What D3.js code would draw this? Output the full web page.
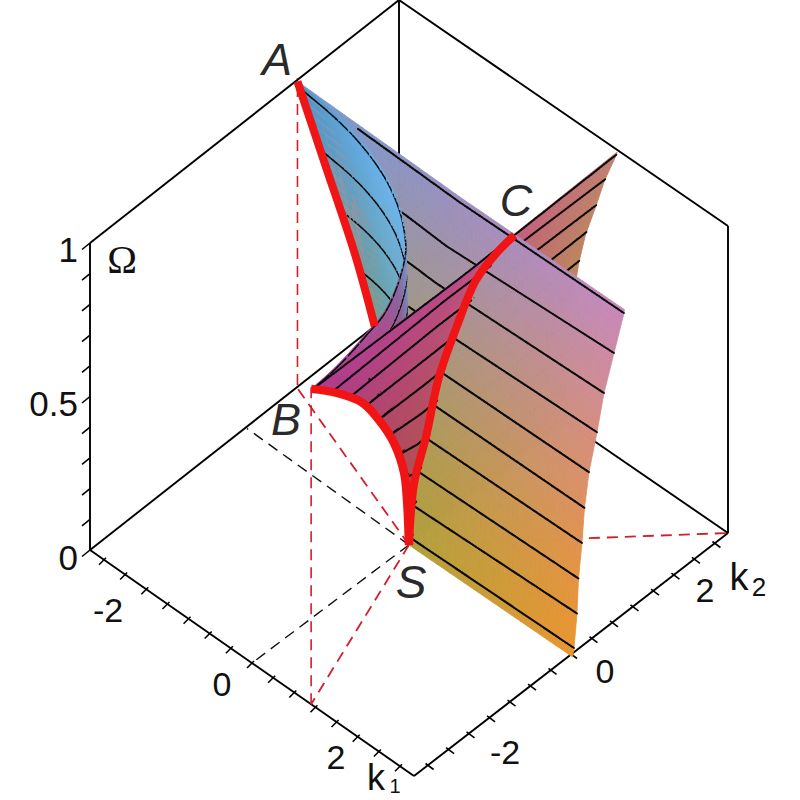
<!DOCTYPE html>
<html><head><meta charset="utf-8">
<script src="https://cdn.jsdelivr.net/npm/d3@7"></script>
<style>html,body{margin:0;padding:0;background:#fff}svg{display:block}</style>
</head><body><svg id="c" width="800" height="800"></svg>
<script>
// ---------- values ----------
const PI = Math.PI;
const k1Ticks = [-2.87,-2.46,-2.05,-1.64,-1.23,-0.82,-0.41,0,0.41,0.82,1.23,1.64,2.05,2.46,2.87];
const k2Ticks = [-2.87,-2.46,-2.05,-1.64,-1.23,-0.82,-0.41,0,0.41,0.82,1.23,1.64,2.05,2.46,2.87];
const omegaTicks = [0,0.1,0.2,0.3,0.4,0.5,0.6,0.7,0.8,0.9,1];
const k1Labels = [-2,0,2], k2Labels = [-2,0,2], omegaLabels = [0,0.5,1];
const contourLevels = [0.025,0.13,0.24,0.347,0.455,0.56,0.67,0.78,0.885,0.99];
// where each contour of the main sheet comes into view, in k1
const contourStart  = [0,0.06,0.12,0.2,0.28,0.35,-0.43,-0.6,-0.87,-2.0];

// sheet offset at the centre line, as a function of Omega
const centreO = [0,0.2,0.35,0.544,0.707,0.857,0.945,1];
const centreK = [0,0.05,0.167,0.295,0.47,0.66,0.866,1.04];
// main sheet offset at k1 = pi
const edgeO = [0,0.025,0.13,0.24,0.347,0.455,0.56,0.67,0.78,0.885,0.99,1];
const edgeK = [0.03,0.06,0.12,0.15,0.22,0.27,0.36,0.52,0.66,0.86,1.06,1.07];
// second sheet offset at k2 = pi
const tipO = [0,0.13,0.24,0.35,0.45,0.554,0.66,0.77,0.88,0.986,1];
const tipK = [0,0.02,0.04,0.08,0.16,0.25,0.38,0.57,0.75,0.97,0.99];
// scale of the third sheet as a function of Omega
const scaleO = [0,0.156,0.26,0.407,0.557,0.70,0.862,1];
const scaleS = [0,0.02,0.05,0.153,0.306,0.48,0.745,1];
// top rim (Omega = 1) of the third sheet, from A to B
const rimK1 = [-3.2,-2.94,-2.60,-2.0,-1.48,-0.97,-0.45,-0.04,0.18,0.52,0.75,0.79,0.96,0.99];
const rimK2 = [1.07,1.04,1.02,0.93,0.79,0.60,0.31,-0.02,-0.24,-0.78,-1.27,-1.56,-2.39,-2.98];
const rimTop = ["#4f95c8","#5499cc","#5a9fd4","#60a8e0","#68b0ea","#6cb4ee","#6cb4ee","#6ab0e8","#7a90c4","#8a66a4","#a25498","#a84c98","#ae4094","#b03a90"];
const rimLow = ["#6f9f8c","#6f9f8c","#70a090","#70a090","#70a090","#74a098","#78a0a0","#8090a0","#905f88","#a05070","#ac4c60","#b04c58","#b04c58","#b04c58"];

// ---------- projection through linear scales ----------
const x1 = d3.scaleLinear([-PI,PI],[0,324]), y1 = d3.scaleLinear([-PI,PI],[0,226]);
const x2 = d3.scaleLinear([-PI,PI],[0,314]), y2 = d3.scaleLinear([-PI,PI],[0,-243]);
const z  = d3.scaleLinear([0,1],[0,-307]);
const X0 = 90, Y0 = 550, lift = 3.5, backShift = -5;
const px = (a,b,w)=>X0+x1(a)+x2(b);
const py = (a,b,w)=>Y0+y1(a)+y2(b)+z(w);
const sy = (a,b,w)=>py(a,b,w)+lift;           // surfaces sit a touch lower
const P  = p=>[px(...p),py(...p)], Q = p=>[px(...p),sy(...p)];
const depth = p=>p[0]-1.03*p[1]+0.25*p[2];

const fc = d3.scaleLinear(centreO,centreK).clamp(true);
const fe = d3.scaleLinear(edgeO,edgeK).clamp(true);
const ge = d3.scaleLinear(tipO,tipK).clamp(true);
const sS = d3.scaleLinear(scaleO,scaleS).clamp(true);
const rimA = d3.interpolateBasis(rimK1), rimB = d3.interpolateBasis(rimK2);
const idx = d3.range(rimK1.length).map(i=>i/(rimK1.length-1));
const cTopT = d3.scaleLinear(idx,rimTop), cLowT = d3.scaleLinear(idx,rimLow);

// sheets: (u in 0..1, w = Omega) -> [k1,k2,w]
const mainAt = (a,w)=>[a,fc(w)+(fe(w)-fc(w))*Math.min(1,Math.abs(a)/PI),w];
const main = (u,w)=>{ const l = sS(w)*rimK1[0]; return mainAt(l+(PI-l)*u,w); };
const second = (u,w)=>{
  const l = sS(w)*rimK2[rimK2.length-1], b = l+(PI-l)*u;
  let a;
  if (b>=0) a = fc(w)+(ge(w)-fc(w))*b/PI;
  else { const m = l===0?0:b/l; a = fc(w)+(sS(w)*rimK1[rimK1.length-1]-fc(w))*m; }
  return [a,b,w];
};
const third = (t,w)=>[sS(w)*rimA(t),sS(w)*rimB(t),w];

// colours
const mainTop = d3.scaleLinear([-PI,0,PI],["#6f9ccf","#9c8fc0","#c888bc"]);
const mainBot = d3.scaleLinear([-PI,0,PI],["#a59a40","#b0a03c","#e8952f"]);
const secTop  = d3.scaleLinear([-PI,0,1,PI],["#ae3a94","#bc4a88","#c45a80","#c08070"]);
const secBot  = d3.scaleLinear([-PI,0,1,PI],["#a83060","#b05050","#b86050","#b88a50"]);
const wMix = d3.scaleLinear([0.2,1],[0,1]).clamp(true);
const wMix3 = d3.scaleLinear([0.45,1],[0,1]).clamp(true);
const colMain = p=>d3.interpolateRgb(mainBot(p[0]),mainTop(p[0]))(Math.pow(p[2],1.4));
const colSec  = p=>d3.interpolateRgb(secBot(p[1]),secTop(p[1]))(wMix(p[2]));

// ---------- build painter-sorted items ----------
const items = [];
function mesh(fn,color,nu,nw){
  for(let i=0;i<nu;i++)for(let j=0;j<nw;j++){
    const u0=i/nu,u1=(i+1)/nu,w0=j/nw,w1=(j+1)/nw;
    const c=[fn(u0,w0),fn(u1,w0),fn(u1,w1),fn(u0,w1)];
    const m=fn((u0+u1)/2,(w0+w1)/2);
    items.push({d:"M"+c.map(p=>Q(p).join(",")).join("L")+"Z",z:depth(m),fill:color(m,(u0+u1)/2),line:false});
  }
}
mesh(main,p=>colMain(p),70,56);
mesh(second,p=>colSec(p),70,56);
mesh(third,(p,t)=>d3.interpolateRgb(cLowT(t),cTopT(t))(wMix3(p[2])),64,56);

const pushContour=(fn,w,n,bias,wid)=>{
  for(let i=0;i<n;i++){
    const a=fn(i/n,w),b=fn((i+1)/n,w);
    items.push({d:"M"+Q(a).join(",")+"L"+Q(b).join(","),z:depth(fn((i+.5)/n,w))+bias,line:true,wid});
  }
};
contourLevels.forEach((w,i)=>{
  const s=contourStart[i];
  pushContour((u,v)=>mainAt(s+(PI-s)*u,v),w,110,0.16,1.9);
  pushContour(second,w,120,0.16,1.9);
  pushContour(third,w,90,0.08,1.5);
});
items.sort((a,b)=>a.z-b.z);

// ---------- draw ----------
const svg = d3.select("#c");
const c=(i,j,w)=>[i*PI,j*PI,w];
const box = svg.append("g").attr("fill","none").attr("stroke","#000").attr("stroke-width",1.9);
const seg=(g,a,b)=>{
  const s=p=>(p[0]===-PI&&p[1]===PI)?backShift:0;
  return g.append("line").attr("x1",px(...a)+s(a)).attr("y1",py(...a)).attr("x2",px(...b)+s(b)).attr("y2",py(...b));
};
[[c(-1,-1,0),c(1,-1,0)],[c(1,-1,0),c(1,1,0)],[c(-1,-1,0),c(-1,1,0)],[c(-1,1,0),c(1,1,0)],
 [c(-1,-1,0),c(-1,-1,1)],[c(-1,1,0),c(-1,1,1)],[c(1,1,0),c(1,1,1)],
 [c(-1,-1,1),c(-1,1,1)],[c(-1,1,1),c(1,1,1)]].forEach(([a,b])=>seg(box,a,b));

// ticks
const tick=(g,a,dx0,dy0,dx1,dy1)=>{const p=P(a);g.append("line").attr("x1",p[0]+dx0).attr("y1",p[1]+dy0).attr("x2",p[0]+dx1).attr("y2",p[1]+dy1);};
const tk = svg.append("g").attr("stroke","#000").attr("stroke-width",1.6);
k1Ticks.forEach(v=>tick(tk,[v,-PI,0],2,-2,-5,5));
k2Ticks.forEach(v=>tick(tk,[PI,v,0],-2,-2,6,4));
omegaTicks.forEach(v=>tick(tk,[-PI,-PI,v],0,0,-8,6.5));

// dashed floor guides
const dash=(a,b,col,w)=>{seg(svg,a,b).attr("stroke",col).attr("stroke-width",w).attr("stroke-dasharray","11 7").attr("fill","none");};
const S=[0,0,-0.011], A=main(0,1), B=second(0,1);
dash(S,[-PI,0,0],"#111",1.4);
dash(S,[0,-PI,0],"#111",1.4);
const red="#d0202c";
dash([A[0],A[1],0],[A[0],A[1],1],red,1.6);
dash(S,[A[0],A[1],-0.011],red,1.8);
// the drop from B is vertical on the page, so find the k1 on the front edge straight below it
const bFoot = x1.invert(px(...B)-X0-x2(-PI));
dash([bFoot,-PI,0],[B[0],B[1],1],red,1.6);
dash(S,[bFoot,-PI,0],red,1.8);
dash(S,[PI,PI,0],red,1.8);

// surfaces and contours, far to near
svg.append("g").selectAll("path").data(items).join("path")
  .attr("d",d=>d.d)
  .attr("fill",d=>d.line?"none":d.fill)
  .attr("stroke",d=>d.line?"#0c0c0c":d.fill)
  .attr("stroke-width",d=>d.line?d.wid:0.8)
  .attr("stroke-linecap",d=>d.line?"round":null);

// red ridge lines
const line = d3.line().curve(d3.curveCatmullRom.alpha(0.5));
const ridge=(pts,w)=>svg.append("path").attr("d",line(pts.map(Q))).attr("fill","none").attr("stroke","#f01414").attr("stroke-width",w);
ridge(scaleO.filter(w=>w>=0.55).map(w=>main(0,w)),8);
ridge(scaleO.map(w=>second(0,w)),8.5);
ridge(centreO.map(w=>[fc(w),fc(w),w]),8);

// text
const T=(s,x,y,size,o={})=>svg.append("text").attr("x",x).attr("y",y).attr("font-size",size)
  .attr("font-family",o.fam||"'Liberation Sans',Arial,sans-serif").attr("font-style",o.it?"italic":null)
  .attr("text-anchor",o.a||"middle").attr("fill",o.col||"#111").text(s);
const lx1=d3.scaleLinear([-2,2],[108,336]), ly1=d3.scaleLinear([-2,2],[622,769]);
const lx2=d3.scaleLinear([-2,2],[505,705]), ly2=d3.scaleLinear([-2,2],[764,602]);
const lyO=d3.scaleLinear([0,1],[570,262]);
k1Labels.forEach(v=>T(v,lx1(v),ly1(v),34));
k2Labels.forEach(v=>T(v,lx2(v),ly2(v),34));
omegaLabels.forEach(v=>T(v,78,lyO(v),35,{a:"end"}));
T("Ω",122,273,40,{fam:"'Liberation Serif',serif"});
T("A",277,75,45,{it:true,col:"#2a2a2a"});
T("B",286,435,45,{it:true,col:"#2a2a2a"});
T("C",516,216,45,{it:true,col:"#2a2a2a"});
T("S",411,598,46,{it:true,col:"#2a2a2a"});
T("k",739,590,38); T("2",759,596,26);
T("k",376,790,36); T("1",395,793,20);
</script></body></html>
